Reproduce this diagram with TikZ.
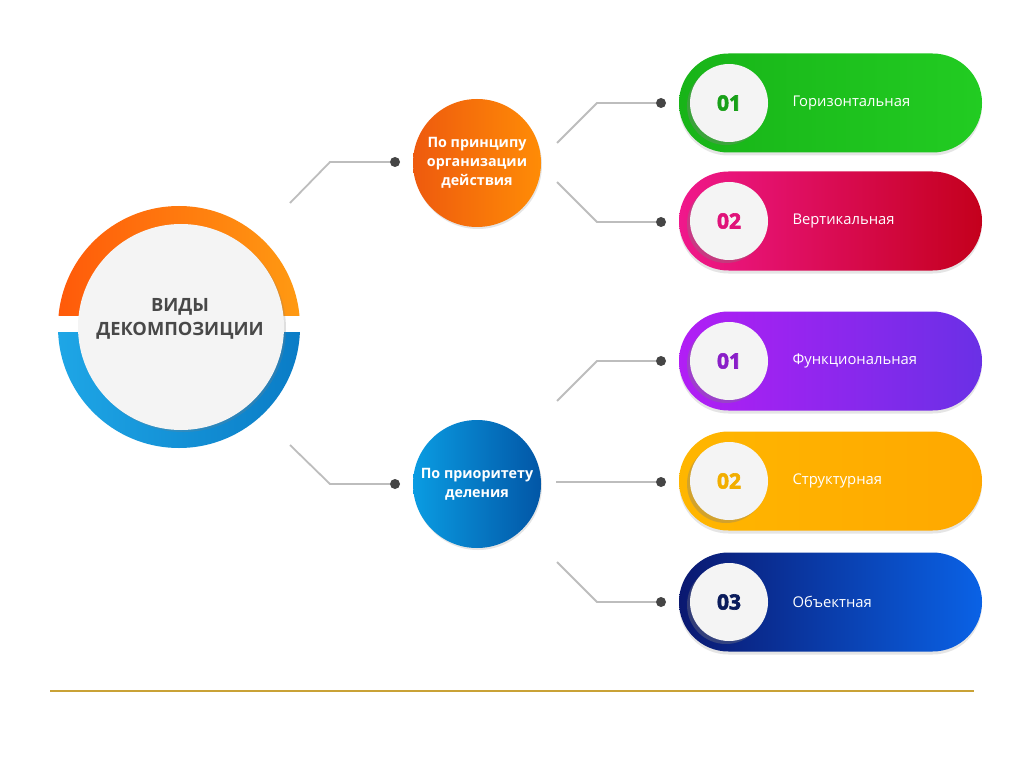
\documentclass[tikz,border=0pt]{standalone}
\usepackage{fontspec}
\setmainfont{Open Sans}
\newfontfamily\numfont{Open Sans}[BoldFeatures={FakeBold=3}]
\usetikzlibrary{shapes.misc,shadows,calc}
\definecolor{ringOa}{HTML}{FF5A0A}
\definecolor{ringOb}{HTML}{FF9A12}
\definecolor{ringBa}{HTML}{1EA6E6}
\definecolor{ringBb}{HTML}{0A7CC6}
\definecolor{orA}{HTML}{EE5A0E}
\definecolor{orB}{HTML}{FF8C06}
\definecolor{blA}{HTML}{0A9CE2}
\definecolor{blB}{HTML}{0256A6}
\definecolor{grA}{HTML}{18B418}
\definecolor{grB}{HTML}{22CC22}
\definecolor{pkA}{HTML}{F0188C}
\definecolor{pkB}{HTML}{C4001C}
\definecolor{puA}{HTML}{B21EF5}
\definecolor{puB}{HTML}{6A30E6}
\definecolor{yeA}{HTML}{FFB600}
\definecolor{yeB}{HTML}{FFA800}
\definecolor{nvA}{HTML}{0A1870}
\definecolor{nvB}{HTML}{0A62E6}
\definecolor{nGr}{HTML}{18A018}
\definecolor{nPk}{HTML}{E0137A}
\definecolor{nPu}{HTML}{8A1FC8}
\definecolor{nYe}{HTML}{F2AE00}
\definecolor{nNv}{HTML}{0B1C5C}
\definecolor{connc}{HTML}{BDBDBD}
\definecolor{dotc}{HTML}{454545}
\definecolor{titlec}{HTML}{484848}
\definecolor{discw}{HTML}{F4F4F4}
\definecolor{goldc}{HTML}{C9A236}
\begin{document}
\begin{tikzpicture}[x=1pt,y=-1pt,
  mainc/.style={circle, minimum size=206pt, inner sep=0pt, fill=discw,
    drop shadow={opacity=0.25, shadow xshift=2pt, shadow yshift=-2pt}},
  titletext/.style={align=center, text=titlec, font=\bfseries\fontsize{18.3}{24}\selectfont},
  branch/.style={circle, minimum size=128pt, inner sep=0pt, text=white, align=center,
    font=\bfseries\fontsize{14.3}{19}\selectfont,
    drop shadow={opacity=0.2, shadow xshift=1pt, shadow yshift=-2pt}},
  conn/.style={draw=connc, line width=1.8pt},
  dotn/.style={circle, fill=dotc, inner sep=0pt, minimum size=10pt},
  pill/.style={rounded rectangle, minimum width=303pt, minimum height=99pt, inner sep=0pt,
    drop shadow={opacity=0.2, shadow xshift=0pt, shadow yshift=-3pt}},
  disc/.style={circle, minimum size=78pt, inner sep=0pt, fill=discw,
    font=\numfont\bfseries\fontsize{21}{24}\selectfont,
    drop shadow={opacity=0.35, shadow xshift=-3pt, shadow yshift=-3pt}},
  lbl/.style={anchor=west, text=white, font=\fontsize{14.8}{16}\selectfont}
]
\useasboundingbox[fill=white] (0,0) rectangle (1024,767);

% big ring
\begin{scope}
  \clip (40,190) rectangle (320,315);
  \shade[left color=ringOa, right color=ringOb] (179,327) circle[radius=121pt];
\end{scope}
\begin{scope}
  \clip (40,332) rectangle (320,470);
  \shade[left color=ringBa, right color=ringBb] (179,327) circle[radius=121pt];
\end{scope}
\node[mainc] (main) at (181,327) {};
\node[titletext] (title) at (180,319) {ВИДЫ\\ДЕКОМПОЗИЦИИ};

% branch circles
\node[branch, left color=orA, right color=orB] (org) at (477,163) {По принципу\\организации\\действия};
\node[branch, left color=blA, right color=blB] (pri) at (477,484) {По приоритету\\деления};

% pills
\node[pill, left color=grA, right color=grB] (p1) at (830.5,103) {};
\node[pill, left color=pkA, right color=pkB] (p2) at (830.5,221) {};
\node[pill, left color=puA, right color=puB] (p3) at (830.5,361) {};
\node[pill, left color=yeA, right color=yeB] (p4) at (830.5,481) {};
\node[pill, left color=nvA, right color=nvB] (p5) at (830.5,602) {};

\node[disc, text=nGr] (n1) at (729,103) {01};
\node[disc, text=nPk] (n2) at (729,221) {02};
\node[disc, text=nPu] (n3) at (729,361) {01};
\node[disc, text=nYe] (n4) at (729,481) {02};
\node[disc, text=nNv] (n5) at (729,602) {03};

\node[lbl] (l1) at (789,103) {Горизонтальная};
\node[lbl] (l2) at (789,221) {Вертикальная};
\node[lbl] (l3) at (789,361) {Функциональная};
\node[lbl] (l4) at (789,481) {Структурная};
\node[lbl] (l5) at (789,602) {Объектная};

% connectors
\coordinate (s1) at (290,203); \coordinate (k1) at (330,162);
\coordinate (s2) at (290,445); \coordinate (k2) at (330,484);
\coordinate (s3) at (557,143); \coordinate (k3) at (597,103);
\coordinate (s4) at (557,182); \coordinate (k4) at (597,222);
\coordinate (s5) at (557,401); \coordinate (k5) at (597,361);
\coordinate (s6) at (556,482);
\coordinate (s7) at (557,562); \coordinate (k7) at (597,602);

\node[dotn] (d1) at (395,162) {};
\node[dotn] (d2) at (395,484) {};
\node[dotn] (d3) at (661,103) {};
\node[dotn] (d4) at (661,222) {};
\node[dotn] (d5) at (661,361) {};
\node[dotn] (d6) at (661,482) {};
\node[dotn] (d7) at (661,602) {};

\draw[conn] (s1) -- (k1) -- (d1);
\draw[conn] (s2) -- (k2) -- (d2);
\draw[conn] (s3) -- (k3) -- (d3);
\draw[conn] (s4) -- (k4) -- (d4);
\draw[conn] (s5) -- (k5) -- (d5);
\draw[conn] (s6) -- (d6);
\draw[conn] (s7) -- (k7) -- (d7);

% bottom rule
\draw[goldc, line width=2.5pt] (50,691) -- (974,691);
\end{tikzpicture}
\end{document}
